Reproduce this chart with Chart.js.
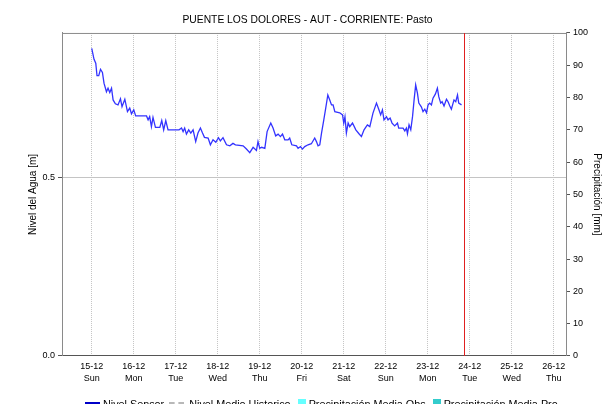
<!DOCTYPE html>
<html><head><meta charset="utf-8">
<script src="https://cdn.jsdelivr.net/npm/chart.js@4.4.1/dist/chart.umd.min.js"></script>
<style>
html,body{margin:0;padding:0;background:#fff;overflow:hidden;width:615px;height:404px}
#wrap{position:relative;width:615px;height:404px;overflow:hidden}
#c{position:absolute;left:0;top:0}
#legend{position:absolute;left:85px;top:397px;white-space:nowrap;display:flex;align-items:center;font-size:10.8px;line-height:14px;color:#000}
.it{display:flex;align-items:center}
</style>
</head><body>
<div id="wrap"><canvas id="c" width="615" height="404"></canvas><div id="legend"></div></div>
<script>
const FONT = "'Liberation Sans',Arial,sans-serif";
const title = 'PUENTE LOS DOLORES - AUT - CORRIENTE: Pasto';
const dayLabels = ['15-12','16-12','17-12','18-12','19-12','20-12','21-12','22-12','23-12','24-12','25-12','26-12'];
const weekDays = ['Sun','Mon','Tue','Wed','Thu','Fri','Sat','Sun','Mon','Tue','Wed','Thu'];
// hours since 15-12 00:00
const hours = [0,1.3,2.3,3,4,5,6.1,7,8.4,9.3,
10.3,11.3,12.2,13.5,15,16.4,17.3,18.9,20.4,21.7,
22.7,24,25.1,31.3,32.2,33.1,34.1,35,36.4,38.9,
40,41.1,42.3,43.6,49.9,51.3,52.2,53.1,54.1,55.4,
56.6,57.9,59.4,60.7,62.1,63.3,64.4,66.5,67.8,69.3,
70.9,72.4,73.5,75,77,78.9,80.7,82.1,86.5,88.4,
90.3,92.2,94.1,95,96,97.1,98.9,100.2,102.3,103.6,
105.1,106.5,107.8,109,110.3,112.2,113.1,114.3,117,117.9,
119.3,120.4,121.7,123.6,125.5,127.4,128.4,129.3,130.3,131.3,
132.6,133.7,134.9,136,137,137.9,138.9,141.7,143.3,144,
144.7,145.5,146.5,147.4,149,150.9,152.7,154.1,155.6,157.5,
158.9,160.7,162.7,164,165.1,166.1,167,168.4,169.3,170.5,
171.6,173.1,174.7,175.4,177.9,178.9,179.8,180.4,181.3,182.3,
183.3,184.2,185.1,186.1,186.9,188.4,189.3,190.3,191.3,192.2,
193.1,194.1,195,196.4,197.5,198.3,199.4,200.2,201.3,202.7,
203.6,204.6,205.5,207,208,209,209.7,211.3];
// water level [m]
const levels = [0.864,0.833,0.822,0.787,0.787,0.805,0.796,0.766,0.742,0.752,
0.740,0.752,0.719,0.708,0.705,0.722,0.700,0.721,0.686,0.696,
0.680,0.691,0.674,0.674,0.663,0.672,0.644,0.670,0.642,0.642,
0.661,0.635,0.661,0.635,0.635,0.640,0.630,0.640,0.623,0.635,
0.626,0.635,0.602,0.626,0.640,0.626,0.614,0.612,0.593,0.607,
0.600,0.613,0.604,0.613,0.593,0.590,0.597,0.593,0.590,0.581,
0.571,0.586,0.577,0.602,0.583,0.586,0.583,0.630,0.654,0.640,
0.618,0.623,0.616,0.623,0.607,0.607,0.612,0.593,0.590,0.583,
0.588,0.581,0.588,0.593,0.596,0.612,0.602,0.590,0.593,0.626,
0.663,0.696,0.733,0.719,0.705,0.705,0.686,0.683,0.677,0.654,
0.672,0.626,0.654,0.644,0.654,0.635,0.624,0.616,0.635,0.649,
0.644,0.682,0.710,0.693,0.677,0.691,0.663,0.672,0.663,0.668,
0.654,0.646,0.654,0.640,0.640,0.632,0.640,0.624,0.649,0.635,
0.672,0.719,0.761,0.738,0.710,0.699,0.686,0.693,0.683,0.705,
0.710,0.705,0.724,0.736,0.752,0.728,0.710,0.714,0.702,0.721,
0.714,0.702,0.693,0.719,0.714,0.733,0.710,0.705];
const levelTicks = [0, 0.5];
const rainTicks = [0,10,20,30,40,50,60,70,80,90,100];
const levelMax = 0.907;
const nowHour = 213;
const xMin = -17, xMax = 271;

const sensor = hours.map((h,i)=>({x:h,y:levels[i]}));

const framePlugin = {
  id:'frame',
  beforeDatasetsDraw(chart){
    const {ctx, chartArea:a} = chart;
    ctx.save();
    ctx.strokeStyle = '#8a8a8a'; ctx.lineWidth = 1;
    ctx.beginPath(); ctx.moveTo(a.left, a.top+0.5); ctx.lineTo(a.right, a.top+0.5); ctx.stroke();
    ctx.restore();
  }
};

const chart = new Chart(document.getElementById('c'), {
  type:'line',
  data:{datasets:[
    {label:'Nivel Sensor', data:sensor, borderColor:'#3333ff', borderWidth:1.3, pointRadius:0, tension:0, yAxisID:'y', legendColor:'#0000c8', legendType:'line'},
    {label:'Nivel Medio Historico', data:[], borderColor:'#b0b0b0', borderDash:[3,3], borderWidth:1, pointRadius:0, yAxisID:'y', legendColor:'#b8b8b8', legendType:'dash'},
    {label:'Precipitación Media Obs', data:[], borderColor:'#66ffff', backgroundColor:'#66ffff', pointRadius:0, yAxisID:'y1', legendColor:'#66ffff', legendType:'box'},
    {label:'Precipitación Media Pro', data:[], borderColor:'#33cccc', backgroundColor:'#33cccc', pointRadius:0, yAxisID:'y1', legendColor:'#33cccc', legendType:'box'},
    {label:'Ahora', data:[{x:nowHour,y:0},{x:nowHour,y:levelMax}], borderColor:'#e02020', borderWidth:1, pointRadius:0, yAxisID:'y', legendType:'none'}
  ]},
  options:{
    responsive:false, animation:false,
    layout:{padding:0},
    font:{family:FONT},
    plugins:{
      legend:{display:false},
      tooltip:{enabled:false},
      title:{display:true, text:title, color:'#000', font:{family:FONT, size:10.3, weight:'normal', lineHeight:1.2}, padding:{top:14,bottom:6.6}}
    },
    scales:{
      x:{type:'linear', min:xMin, max:xMax, offset:false,
        afterBuildTicks(s){ s.ticks = dayLabels.map((d,i)=>({value:i*24})); },
        afterFit(s){ s.height = 48; },
        ticks:{autoSkip:false, maxRotation:0, padding:5, color:'#000', font:{family:FONT,size:9,lineHeight:1.3}, callback:(v,i)=>[dayLabels[i], weekDays[i]]},
        grid:{offset:false, color:'#c4c4c4', borderDash:[2,3], drawTicks:false, lineWidth:1},
        border:{color:'#555', dash:[1,1], width:1}
      },
      y:{position:'left', min:0, max:levelMax,
        afterBuildTicks(s){ s.ticks = levelTicks.map(v=>({value:v})); },
        afterFit(s){ s.width = 62; },
        ticks:{color:'#000', padding:3, font:{family:FONT,size:9}, callback:v=>v.toFixed(1)},
        grid:{color:ctx=>ctx.tick && ctx.tick.value===0 ? 'rgba(0,0,0,0)' : '#c4c4c4', borderDash:[2,3], tickBorderDash:[], tickColor:'#555', tickLength:4},
        border:{color:'#8a8a8a'},
        title:{display:true, text:'Nivel del Agua [m]', color:'#000', font:{family:FONT,size:10}, padding:{top:27,bottom:0}}
      },
      y1:{position:'right', min:0, max:100,
        afterBuildTicks(s){ s.ticks = rainTicks.map(v=>({value:v})); },
        afterFit(s){ s.width = 49; },
        ticks:{color:'#000', padding:3, font:{family:FONT,size:9}},
        grid:{drawOnChartArea:false, tickColor:'#555', tickLength:4},
        border:{color:'#8a8a8a'},
        title:{display:true, text:'Precipitación [mm]', color:'#000', font:{family:FONT,size:10}, padding:{top:12,bottom:0}}
      }
    }
  },
  plugins:[framePlugin]
});

// legend built from datasets
const lg = document.getElementById('legend');
lg.style.fontFamily = FONT;
chart.data.datasets.forEach((ds,k)=>{
  if(ds.legendType==='none') return;
  const it = document.createElement('div'); it.className='it';
  if(k>0) it.style.marginLeft = ds.legendType==='box' ? '7px' : '5px';
  const s = document.createElement('span');
  if(ds.legendType==='line'){ s.style.cssText='display:inline-block;width:15px;height:0;border-top:2px solid '+ds.legendColor+';margin-right:3px;position:relative;top:-1px'; }
  else if(ds.legendType==='dash'){ s.style.cssText='display:inline-block;width:15px;height:0;border-top:2px dashed '+ds.legendColor+';margin-right:5px;position:relative;top:-1px'; }
  else { s.style.cssText='display:inline-block;width:8px;height:9px;background:'+ds.legendColor+';margin-right:3px;position:relative;top:-1px'; }
  const t = document.createElement('span'); t.textContent = ds.label;
  it.appendChild(s); it.appendChild(t); lg.appendChild(it);
});
</script>
</body></html>
